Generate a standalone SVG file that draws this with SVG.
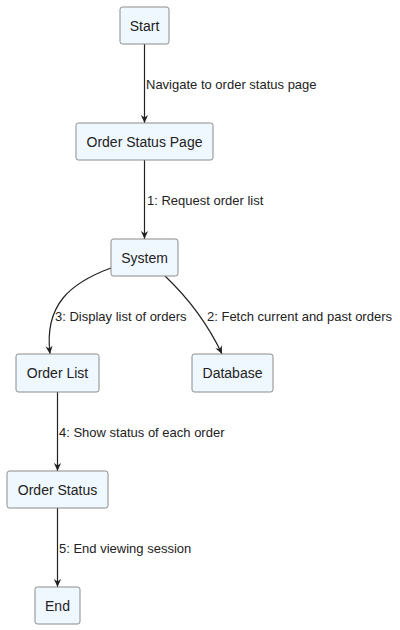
<svg xmlns="http://www.w3.org/2000/svg" width="400" height="630" viewBox="0 0 400 630">
<style>
.node rect{fill:#F0F8FF;stroke:#8a8a8a;stroke-width:1}
.node text{font-family:"Liberation Sans",Arial,sans-serif;font-size:14px;fill:#222;text-anchor:middle}
.edge{fill:none;stroke:#222;stroke-width:1.2}
.lbl{font-family:"Liberation Sans",Arial,sans-serif;font-size:13px;fill:#222}
</style>
<defs>
<marker id="arr" viewBox="0 0 10 10" refX="10" refY="5" markerWidth="8" markerHeight="8" markerUnits="userSpaceOnUse" orient="auto">
<path d="M0,0.5 L10,5 L0,9.5 L3,5 z" fill="#222"/>
</marker>
</defs>
<rect width="400" height="630" fill="#fff"/>
<g id="connectors">
<path class="edge" d="M144.5,44 L144.5,123" marker-end="url(#arr)"/>
<path class="edge" d="M144.5,160 L144.5,239" marker-end="url(#arr)"/>
<path class="edge" d="M111,268 C70,283 44,305 50,354" marker-end="url(#arr)"/>
<path class="edge" d="M165,276 C185,295 205,318 222,354" marker-end="url(#arr)"/>
<path class="edge" d="M57.5,392 L57.5,471" marker-end="url(#arr)"/>
<path class="edge" d="M57.5,508 L57.5,587" marker-end="url(#arr)"/>
<text class="lbl" x="146" y="89">Navigate to order status page</text>
<text class="lbl" x="147" y="205">1: Request order list</text>
<text class="lbl" x="55" y="321">3: Display list of orders</text>
<text class="lbl" x="207" y="321">2: Fetch current and past orders</text>
<text class="lbl" x="59" y="437">4: Show status of each order</text>
<text class="lbl" x="59" y="553">5: End viewing session</text>
</g>
<g id="start" class="node"><rect x="120" y="7" width="49" height="37" rx="2.5"/><text x="144.5" y="30.5">Start</text></g>
<g id="order-status-page" class="node"><rect x="76" y="123" width="137" height="37" rx="2.5"/><text x="144.5" y="146.5">Order Status Page</text></g>
<g id="system" class="node"><rect x="111" y="239" width="67" height="37" rx="2.5"/><text x="144.5" y="262.5">System</text></g>
<g id="order-list" class="node"><rect x="16" y="354" width="83" height="38" rx="2.5"/><text x="57.5" y="378">Order List</text></g>
<g id="database" class="node"><rect x="192" y="354" width="81" height="38" rx="2.5"/><text x="232.5" y="378">Database</text></g>
<g id="order-status" class="node"><rect x="7" y="471" width="101" height="37" rx="2.5"/><text x="57.5" y="494.5">Order Status</text></g>
<g id="end" class="node"><rect x="35" y="587" width="45" height="37" rx="2.5"/><text x="57.5" y="610.5">End</text></g>
</svg>
